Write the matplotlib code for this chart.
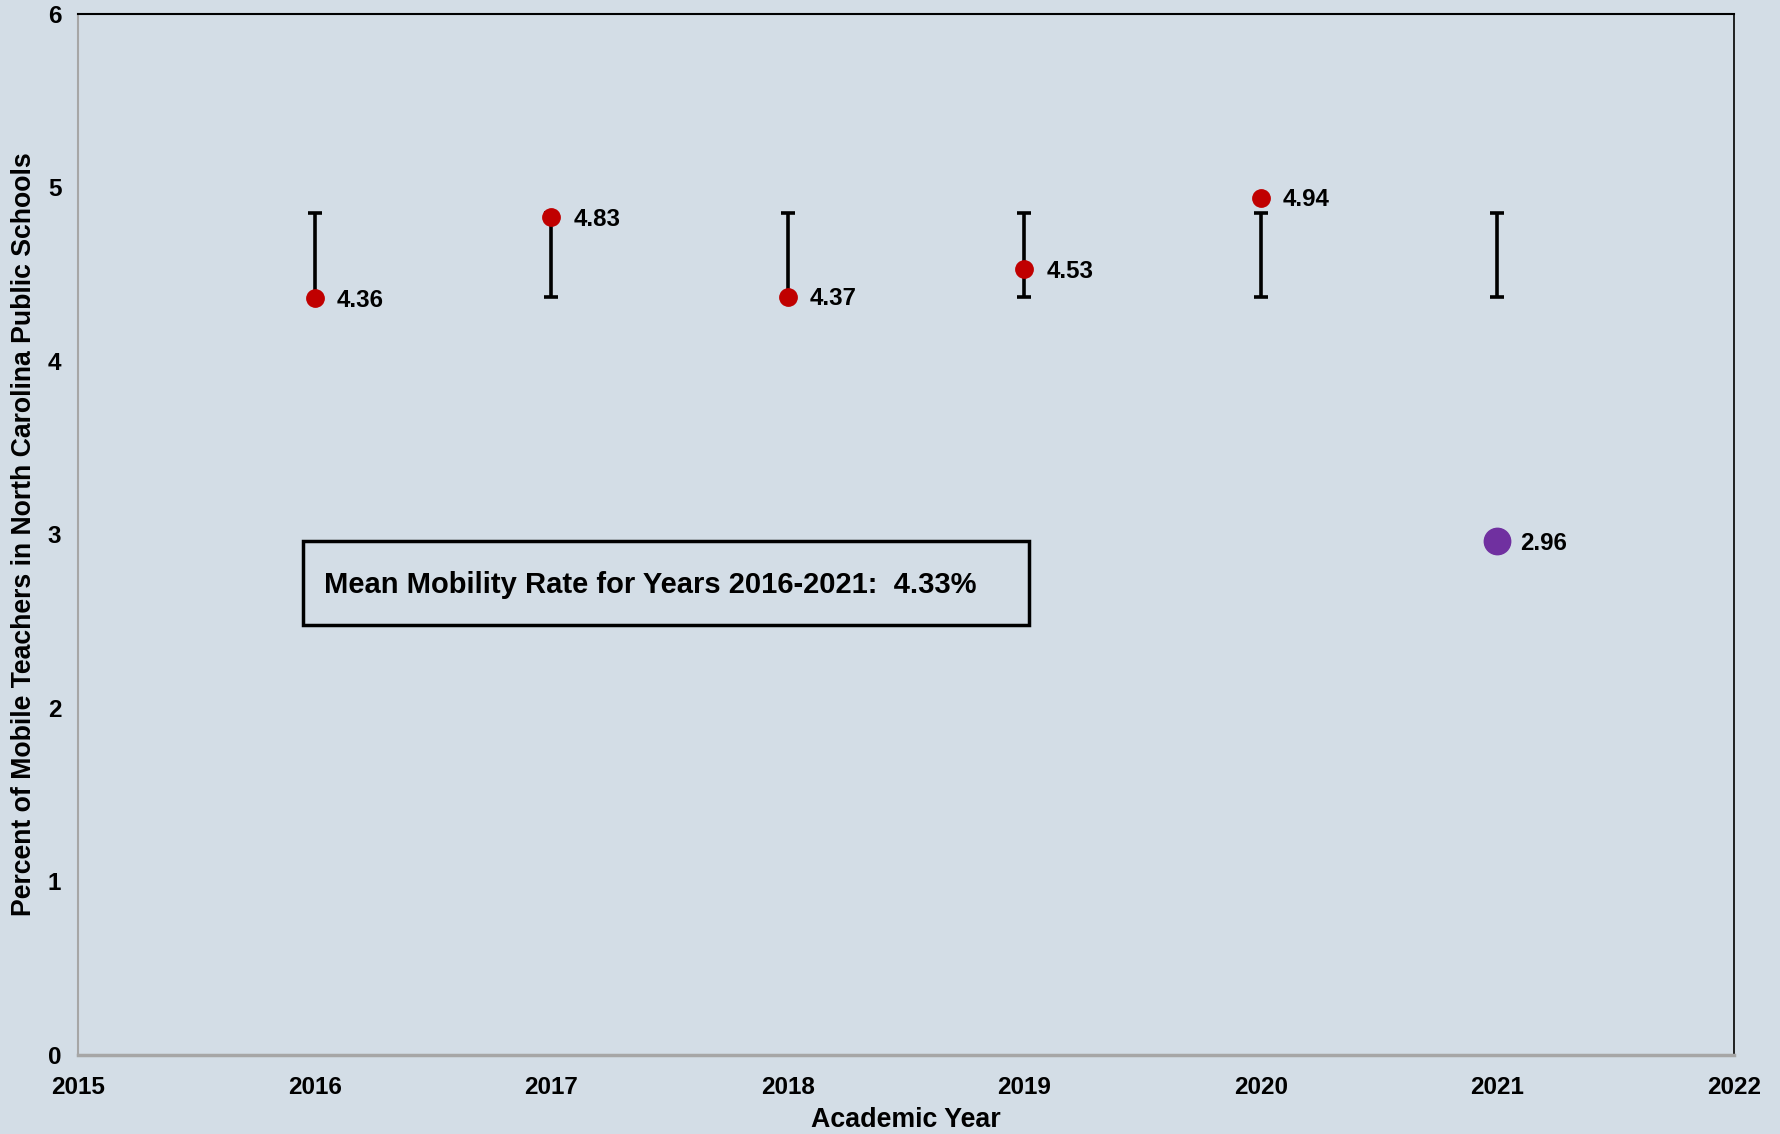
import matplotlib.pyplot as plt
from matplotlib.patches import Rectangle

plt.rcParams['font.family'] = ['Liberation Sans', 'DejaVu Sans']
plt.rcParams['font.weight'] = 'bold'

years = [2016, 2017, 2018, 2019, 2020, 2021]
rates = [4.36, 4.83, 4.37, 4.53, 4.94, 2.96]
band_low = [4.37, 4.37, 4.37, 4.37, 4.37, 4.37]
band_high = [4.85, 4.85, 4.85, 4.85, 4.85, 4.85]
mean_text = 'Mean Mobility Rate for Years 2016-2021:  4.33%'

bg = '#D3DDE6'
fig = plt.figure(figsize=(17.81, 11.34), dpi=100, facecolor=bg)
ax = fig.add_axes([0.0438, 0.0697, 0.9298, 0.918], facecolor=bg)

# range bars
mid = [(l + h) / 2 for l, h in zip(band_low, band_high)]
half = [(h - l) / 2 for l, h in zip(band_low, band_high)]
ax.errorbar(years, mid, yerr=half, fmt='none', ecolor='black',
            elinewidth=2.6, capsize=5, capthick=2.6, zorder=2)

# points
ax.plot(years[:5], rates[:5], 'o', color='#C00000', markersize=12.5, zorder=3)
ax.plot(years[5:], rates[5:], 'o', color='#7030A0', markersize=19, zorder=3)

for x, v in zip(years, rates):
    ax.annotate(f'{v:.2f}', (x, v), xytext=(16, -1.5), textcoords='offset points',
                ha='left', va='center', fontsize=17.3, fontweight='bold')

# mean box
ax.add_patch(Rectangle((2015.95, 2.48), 3.07, 0.48, fill=False,
                       edgecolor='black', linewidth=2.5, zorder=2))
ax.text(2016.04, 2.71, mean_text, ha='left', va='center',
        fontsize=21, fontweight='bold')

ax.set_xlim(2015, 2022)
ax.set_ylim(0, 6)
ax.set_xticks(range(2015, 2023))
ax.set_yticks(range(0, 7))
ax.tick_params(length=0, labelsize=17.5)
ax.tick_params(axis='x', pad=15)
ax.tick_params(axis='y', pad=12)
for lab in ax.get_xticklabels() + ax.get_yticklabels():
    lab.set_fontweight('bold')

ax.spines['top'].set_color('black')
ax.spines['right'].set_color('black')
ax.spines['top'].set_linewidth(1.5)
ax.spines['right'].set_linewidth(1.2)
ax.spines['left'].set_color('#A6A6A6')
ax.spines['left'].set_linewidth(1.5)
ax.spines['bottom'].set_color('#A6A6A6')
ax.spines['bottom'].set_linewidth(2.5)

ax.set_xlabel('Academic Year', fontsize=19.3, fontweight='bold', labelpad=6)
ax.set_ylabel('Percent of Mobile Teachers in North Carolina Public Schools',
              fontsize=19.2, fontweight='bold', labelpad=8)

fig.savefig('out.png', dpi=100, facecolor=bg)
